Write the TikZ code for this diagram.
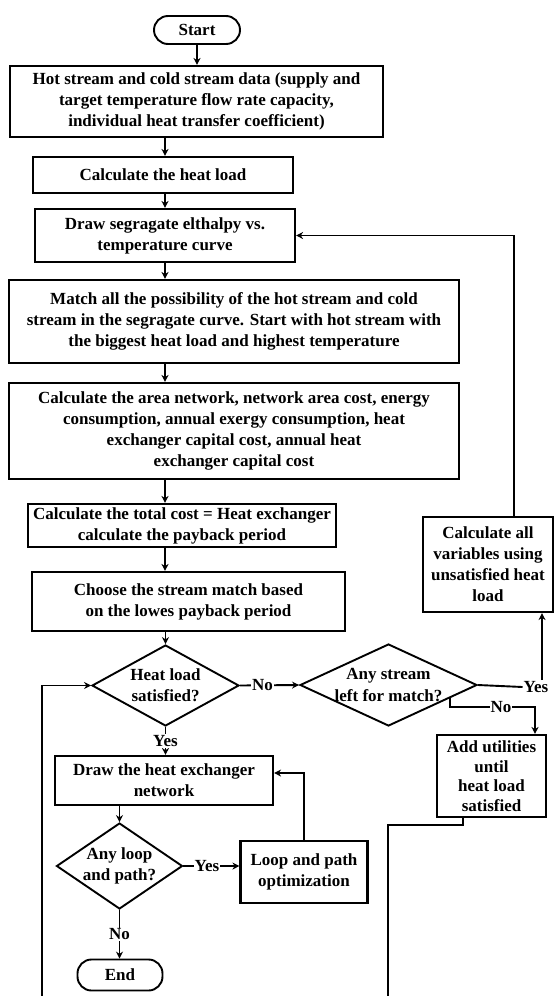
\documentclass[tikz,border=0pt]{standalone}
\usepackage{fontspec}
\setmainfont{Liberation Serif}
\usetikzlibrary{arrows.meta,shapes.geometric,calc}
\begin{document}
\begin{tikzpicture}[x=1pt,y=-1pt,
  every node/.style={font=\fontsize{17}{21}\selectfont\bfseries},
  box/.style={draw, line width=2.1pt, rectangle, align=center, inner sep=0pt},
  term/.style={draw, line width=1.9pt, rounded corners=14pt, inner sep=0pt},
  dec/.style={draw, line width=1.9pt, diamond, inner sep=0pt},
  arr/.style={line width=1.9pt, -{Stealth[length=7pt,width=7pt]}},
  ln/.style={line width=1.9pt},
  lbl/.style={fill=white, inner sep=1pt}]
\useasboundingbox (0,0) rectangle (556,996);
% nodes
\node[term, minimum width=86pt, minimum height=28pt] (st) at (197,30) {Start};
\node[box, minimum width=373pt, minimum height=71pt] (b1) at (196.5,101.5) {Hot stream and cold stream data (supply and\\target temperature flow rate capacity,\\individual heat transfer coefficient)};
\node[box, minimum width=260pt, minimum height=36pt] (b2) at (163,175) {Calculate the heat load};
\node[box, minimum width=260pt, minimum height=53pt] (b3) at (165,235.5) {Draw segragate elthalpy vs.\\temperature curve};
\node[box, minimum width=450pt, minimum height=83pt] (b4) at (234,321.5) {Match all the possibility of the hot stream and cold\\stream in the segragate curve. Start with hot stream with\\the biggest heat load and highest temperature};
\node[box, minimum width=450pt, minimum height=96pt] (b5) at (234,431) {Calculate the area network, network area cost, energy\\consumption, annual exergy consumption, heat\\exchanger capital cost, annual heat\\exchanger capital cost};
\node[box, minimum width=308pt, minimum height=43pt] (b6) at (182,525.5) {Calculate the total cost = Heat exchanger\\calculate the payback period};
\node[box, minimum width=313pt, minimum height=59pt] (b7) at (188.5,601.5) {Choose the stream match based\\on the lowes payback period};
\node[dec, minimum width=147pt, minimum height=81pt, label={[align=center]center:{Heat load\\satisfied?}}] (d1) at (165.5,685.5) {};
\node[dec, minimum width=177pt, minimum height=82pt, label={[align=center]center:{Any stream\\left for match?}}] (d2) at (388.5,685) {};
\node[box, minimum width=130pt, minimum height=95pt] (ca) at (488,564.5) {Calculate all\\variables using\\unsatisfied heat\\load};
\node[box, minimum width=109pt, minimum height=82pt, font=\fontsize{17}{19.5}\selectfont\bfseries] (au) at (491.5,776) {Add utilities\\until\\heat load\\satisfied};
\node[box, minimum width=218pt, minimum height=49pt] (hx) at (164,780.5) {Draw the heat exchanger\\network};
\node[dec, minimum width=126pt, minimum height=86pt, label={[align=center]center:{Any loop\\and path?}}] (d3) at (119.5,866) {};
\node[box, minimum width=127pt, minimum height=62pt] (lp) at (304,872) {Loop and path\\optimization};
\node[term, minimum width=85pt, minimum height=31pt] (en) at (120,975) {End};
\node[inner sep=1pt] (ya) at (536,687) {Yes};
% helper coordinates
\coordinate (cx) at (165,0);
\coordinate (rx) at (514,0);
\coordinate (yx) at (542,0);
\coordinate (nx) at (535,707);
\coordinate (ux) at (463,825);
\coordinate (ub) at (388,996);
\coordinate (lb) at (42,996);
% connectors
\draw[arr] (st.south) -- (b1.north -| st.south);
\draw[arr] (b1.south -| cx) -- (b2.north -| cx);
\draw[arr] (b2.south -| cx) -- (b3.north -| cx);
\draw[arr] (b3.south -| cx) -- (b4.north -| cx);
\draw[arr] (b4.south -| cx) -- (b5.north -| cx);
\draw[arr] (b5.south -| cx) -- (b6.north -| cx);
\draw[arr] (b6.south -| cx) -- (b7.north -| cx);
\draw[arr] (b7.south -| d1.north) -- (d1.north);
\draw[arr] (d1.east) -- node[lbl,pos=0.38]{No} (d2.west);
\draw[arr] (d1.south) -- node[lbl]{Yes} (hx.north -| d1.south);
\draw[arr] (hx.south -| d3.north) -- (d3.north);
\draw[arr] (d3.east) -- node[lbl,pos=0.42]{Yes} (lp.west |- d3.east);
\draw[arr] (d3.south) -- node[lbl]{No} (en.north -| d3.south);
\draw[arr] (lp.north) |- ($(hx.east)+(0,-7.5)$);
\draw[ln] (d2.east) -- (ya.west);
\draw[arr] (ya.north -| yx) -- (ca.south -| yx);
\draw[arr] (ca.north -| rx) |- (b3.east);
\draw[arr] (d2.-12) |- node[lbl,pos=0.8]{No} (nx) -- (au.north -| nx);
\draw[ln] (au.south -| ux) |- (ub |- ux) -- (ub);
\draw[arr] (lb) |- (d1.west);
\end{tikzpicture}
\end{document}
